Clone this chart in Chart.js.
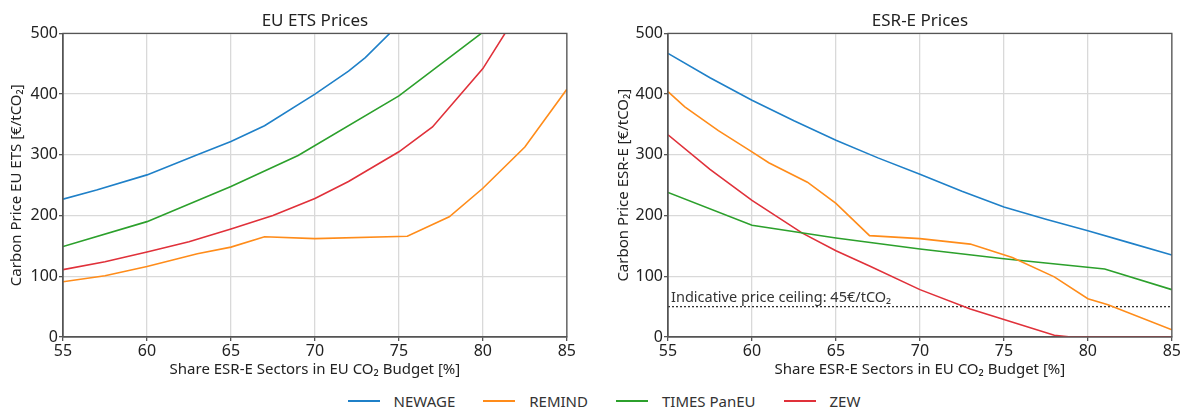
<!DOCTYPE html>
<html>
<head>
<meta charset="utf-8">
<script src="https://cdn.jsdelivr.net/npm/chart.js@4"></script>
<style>
  body { margin: 0; background: #fff; width: 1182px; height: 409px; overflow: hidden; position: relative; font-family: "Noto Sans", sans-serif; }
  canvas { position: absolute; top: 0; }
  #etsChart { left: 0; }
  #esrChart { left: 605px; }
  #legend { position: absolute; top: 391px; left: 0; width: 1182px; display: flex; justify-content: center; padding-left: 26px; box-sizing: border-box; font-size: 15px; color: #333; }
  .item { display: flex; align-items: center; margin: 0 14px; }
  .item span.line { width: 32px; height: 2px; margin-right: 14px; display: inline-block; }
</style>
</head>
<body>
<canvas id="etsChart" width="577" height="385"></canvas>
<canvas id="esrChart" width="577" height="385"></canvas>
<div id="legend"></div>
<script>
// models + colours
const models = ["NEWAGE", "REMIND", "TIMES PanEU", "ZEW"]
const colors = ['#1f80c8', '#ff8c1a', '#2ca02c', '#e0313a']

// EU ETS prices (left)
const etsNewageX = [55, 57, 60, 63, 65, 67, 70, 72, 73, 75]
const etsNewageY = [227, 242, 267, 300, 322, 348, 400, 438, 460, 515]
const etsRemindX = [55, 57.5, 60, 63, 65, 67, 70, 75.5, 78, 80, 82.5, 85]
const etsRemindY = [91, 101, 116, 137, 148, 165, 162, 166, 198, 245, 313, 408]
const etsTimesX = [55, 60, 65, 69, 75, 80]
const etsTimesY = [149, 190, 248, 299, 397, 502]
const etsZewX = [55, 57.5, 60, 62.5, 65, 67.5, 70, 72, 75, 77, 80, 82]
const etsZewY = [111, 124, 140, 157, 178, 200, 228, 256, 305, 346, 442, 530]

// ESR-E prices (right)
const esrNewageX = [55, 57.5, 60, 62.5, 65, 67.5, 70, 72.5, 75, 77.5, 80, 82.5, 85]
const esrNewageY = [467, 427, 390, 356, 324, 295, 268, 240, 214, 194, 175, 155, 135]
const esrRemindX = [55, 56, 58, 60, 61, 63.3, 65, 67, 70, 73, 75.5, 78, 80, 81.2, 85]
const esrRemindY = [404, 379, 340, 305, 287, 255, 220, 167, 162, 153, 131, 99, 63, 53, 12]
const esrTimesX = [55, 60, 65, 70, 75, 81, 85]
const esrTimesY = [238, 184, 163, 145, 129, 112, 78]
const esrZewX = [55, 57.5, 60, 63, 65, 67, 70, 73, 75, 78, 79, 85]
const esrZewY = [333, 276, 225, 171, 142, 117, 78, 46, 29, 3, 0, 0]

const ceilingX = [55, 85]
const ceilingY = [50, 50]
const ceilingLabel = "Indicative price ceiling: 45€/tCO₂"

const xTitle = "Share ESR-E Sectors in EU CO₂ Budget [%]"

const pts = (xs, ys) => xs.map((x, i) => ({ x: x, y: ys[i] }))

const series = (sets) => sets.map((s, i) => ({
  label: models[i],
  data: pts(s[0], s[1]),
  borderColor: colors[i],
  borderWidth: 1.6,
  pointRadius: 0,
  tension: 0,
  clip: 0
}))

// frame round the plot, title over the plot area, ceiling text
const boxPlugin = {
  id: 'box',
  afterDatasetsDraw(chart, args, opts) {
    const a = chart.chartArea
    const ctx = chart.ctx
    ctx.save()
    ctx.strokeStyle = '#555'
    ctx.lineWidth = 1.3
    ctx.strokeRect(a.left, a.top, a.right - a.left, a.bottom - a.top)
    ctx.fillStyle = '#222'
    ctx.font = '17px "Noto Sans"'
    ctx.textAlign = 'center'
    ctx.textBaseline = 'middle'
    ctx.fillText(opts.title, (a.left + a.right) / 2, 21)
    if (chart.canvas.id === 'esrChart') {
      const x = chart.scales.x.getPixelForValue(55) + 3
      const y = chart.scales.y.getPixelForValue(50) - 5
      ctx.fillStyle = '#333'
      ctx.font = '14.5px "Noto Sans"'
      ctx.textAlign = 'left'
      ctx.textBaseline = 'alphabetic'
      ctx.fillText(ceilingLabel, x, y)
    }
    ctx.restore()
  }
}

function makeChart(id, title, yTitle, datasets, yPad) {
  return new Chart(document.getElementById(id), {
    type: 'line',
    data: { datasets: datasets },
    options: {
      responsive: false,
      animation: false,
      layout: { padding: { left: 0, right: 9, top: 33.4, bottom: 0 } },
      plugins: {
        legend: { display: false },
        tooltip: { enabled: false },
        title: { display: false },
        box: { title: title }
      },
      scales: {
        x: {
          type: 'linear',
          min: 55, max: 85,
          afterFit: (s) => { s.height = 48 },
          ticks: { stepSize: 5, color: '#222', font: { family: 'Noto Sans', size: 16 }, padding: 1 },
          grid: { color: '#d9d9d9', lineWidth: 1.3, tickLength: 4, tickColor: '#555' },
          border: { color: '#555', width: 1.3 },
          title: { display: true, text: xTitle, color: '#222', font: { family: 'Noto Sans', size: 15 }, padding: { top: 0, bottom: 6 } }
        },
        y: {
          min: 0, max: 500,
          afterFit: (s) => { s.width = 63 },
          ticks: { stepSize: 100, color: '#222', font: { family: 'Noto Sans', size: 16 }, padding: 1 },
          grid: { color: '#d9d9d9', lineWidth: 1.3, tickLength: 4, tickColor: '#555' },
          border: { color: '#555', width: 1.3 },
          title: { display: true, text: yTitle, color: '#222', font: { family: 'Noto Sans', size: 15 }, padding: { top: yPad, bottom: 0 } }
        }
      }
    },
    plugins: [boxPlugin]
  })
}

makeChart('etsChart', 'EU ETS Prices', 'Carbon Price EU ETS [€/tCO₂]', series([
  [etsNewageX, etsNewageY], [etsRemindX, etsRemindY], [etsTimesX, etsTimesY], [etsZewX, etsZewY]
]), 8)

const esrSets = series([
  [esrNewageX, esrNewageY], [esrRemindX, esrRemindY], [esrTimesX, esrTimesY], [esrZewX, esrZewY]
])
esrSets.push({
  label: 'ceiling',
  data: pts(ceilingX, ceilingY),
  borderColor: '#333',
  borderWidth: 1.3,
  borderDash: [2, 2],
  pointRadius: 0,
  clip: 0
})
makeChart('esrChart', 'ESR-E Prices', 'Carbon Price ESR-E [€/tCO₂]', esrSets, 10)

// shared legend underneath
const legend = document.getElementById('legend')
models.forEach((m, i) => {
  const it = document.createElement('div')
  it.className = 'item'
  it.innerHTML = '<span class="line" style="background:' + colors[i] + '"></span>' + m
  legend.appendChild(it)
})
</script>
</body>
</html>
